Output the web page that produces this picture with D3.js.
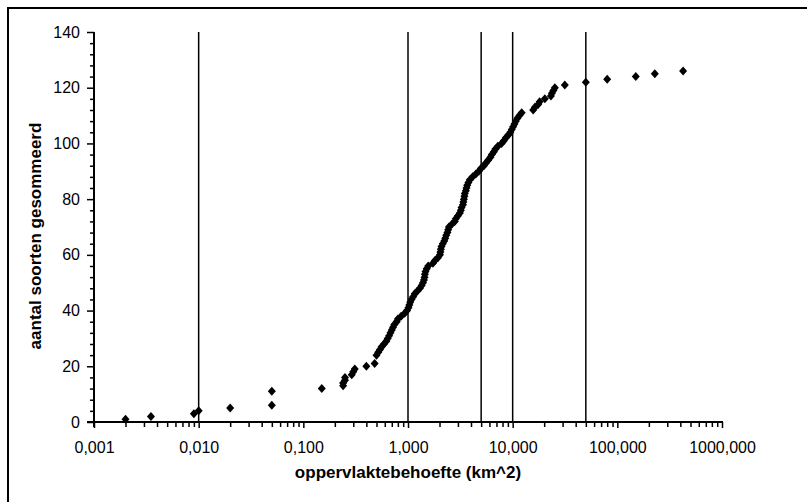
<!DOCTYPE html>
<html>
<head>
<meta charset="utf-8">
<script src="https://cdn.jsdelivr.net/npm/d3@7"></script>
<style>
  body { margin: 0; background: #fff; }
  svg { display: block; font-family: "Liberation Sans", Arial, sans-serif; }
</style>
</head>
<body>
<div id="chart"></div>
<script>
// area requirement (km^2) per species, and the summed number of species
const area = [
  0.002, 0.0035, 0.009, 0.01, 0.02, 0.05, 0.05, 0.15,
  0.24, 0.24, 0.25, 0.25, 0.29, 0.3, 0.31, 0.4, 0.48,
  0.5, 0.52, 0.54, 0.56, 0.59, 0.62, 0.64, 0.66, 0.68, 0.7,
  0.72, 0.74, 0.78, 0.8, 0.86, 0.93, 0.98, 1.01, 1.03, 1.05,
  1.08, 1.12, 1.16, 1.23, 1.3, 1.35, 1.39, 1.42, 1.44, 1.45,
  1.47, 1.51, 1.56, 1.73, 1.81, 1.93, 2.02, 2.04, 2.06, 2.09,
  2.15, 2.22, 2.27, 2.32, 2.38, 2.42, 2.46, 2.62, 2.8, 2.86,
  3.0, 3.13, 3.2, 3.25, 3.35, 3.38, 3.42, 3.46, 3.49, 3.57,
  3.62, 3.68, 3.78, 3.9, 4.15, 4.45, 4.75, 4.97, 5.31, 5.55,
  5.83, 6.13, 6.33, 6.61, 6.84, 7.22, 7.83, 8.24, 8.61, 9.1,
  9.5, 9.8, 10.1, 10.4, 10.7, 11.1, 11.6, 12.2, 15.7, 16.3,
  17.5, 18.1, 20.3, 23.2, 23.7, 24.5, 25.3, 31.5, 50, 80,
  150, 228, 425
];
const count = [
  1, 2, 3, 4, 5, 6, 11, 12,
  13, 14, 15, 16, 17, 18, 19, 20, 21,
  24, 25, 26, 27, 28, 29, 30, 31, 32, 33,
  34, 35, 36, 37, 38, 39, 40, 41, 42, 43,
  44, 45, 46, 47, 48, 49, 50, 51, 52, 53,
  54, 55, 56, 57, 58, 59, 60, 61, 62, 63,
  64, 65, 66, 67, 68, 69, 70, 71, 72, 73,
  74, 75, 76, 77, 78, 79, 80, 81, 82, 83,
  84, 85, 86, 87, 88, 89, 90, 91, 92, 93,
  94, 95, 96, 97, 98, 99, 100, 101, 102, 103,
  104, 105, 106, 107, 108, 109, 110, 111, 112, 113,
  114, 115, 116, 117, 118, 119, 120, 121, 122, 123,
  124, 125, 126
];
// vertical reference lines
const refLines = [0.01, 1, 5, 10, 50];
// ticks
const xTicks = [0.001, 0.01, 0.1, 1, 10, 100, 1000];
const yTicks = [0, 20, 40, 60, 80, 100, 120, 140];

const points = area.map((a, i) => ({ area: a, count: count[i] }));

const width = 807, height = 502;
const margin = { top: 32, right: 85, bottom: 80, left: 94 };
const plotW = width - margin.left - margin.right;
const plotH = height - margin.top - margin.bottom;

const svg = d3.select("#chart").append("svg")
  .attr("width", width)
  .attr("height", height);

// outer frame (only left and top edges fall inside the picture)
svg.append("rect")
  .attr("x", 8).attr("y", 8)
  .attr("width", 900).attr("height", 600)
  .attr("fill", "none")
  .attr("stroke", "#000")
  .attr("stroke-width", 2);

const g = svg.append("g")
  .attr("transform", `translate(${margin.left},${margin.top})`);

const x = d3.scaleLog().domain([0.001, 1000]).range([0, plotW]);
const y = d3.scaleLinear().domain([0, 140]).range([plotH, 0]);

const nl = d3.formatLocale({ decimal: ",", thousands: ".", grouping: [3], currency: ["€", ""] });
const fmt = nl.format(".3f");

// minor ticks
const xMinor = [];
for (let e = -3; e < 3; e++) {
  for (let k = 2; k <= 9; k++) xMinor.push(k * Math.pow(10, e));
}
const yMinor = d3.range(0, 141, 4).filter(v => v % 20 !== 0);

g.append("g")
  .attr("transform", `translate(0,${plotH})`)
  .call(d3.axisBottom(x).tickValues(xMinor).tickSize(5).tickFormat(""))
  .call(a => a.select(".domain").remove())
  .selectAll("line").attr("stroke-width", 1.5);

g.append("g")
  .call(d3.axisLeft(y).tickValues(yMinor).tickSize(4).tickFormat(""))
  .call(a => a.select(".domain").remove())
  .selectAll("line").attr("stroke-width", 1.5);

// reference lines
g.selectAll(".ref")
  .data(refLines)
  .enter().append("line")
  .attr("class", "ref")
  .attr("x1", d => x(d)).attr("x2", d => x(d))
  .attr("y1", y(140)).attr("y2", y(0))
  .attr("stroke", "#000")
  .attr("stroke-width", 1.5);

// x axis
const xAxis = g.append("g")
  .attr("transform", `translate(0,${plotH})`)
  .call(d3.axisBottom(x).tickValues(xTicks).tickSize(6).tickPadding(14).tickFormat(fmt));
xAxis.select(".domain").attr("stroke-width", 2).attr("d", `M-7,0H${plotW + 1}`);
xAxis.selectAll("line").attr("stroke-width", 1.5);
xAxis.selectAll("text").style("font-size", "16px").attr("fill", "#000");

// y axis
const yAxis = g.append("g")
  .call(d3.axisLeft(y).tickValues(yTicks).tickSize(7).tickPadding(7));
yAxis.select(".domain").attr("stroke-width", 2).attr("d", `M0,${plotH + 5}V0`);
yAxis.selectAll("line").attr("stroke-width", 1.5);
yAxis.selectAll("text").style("font-size", "16px").attr("fill", "#000");

// diamond markers
const diamond = "M0,-4.5L4,0L0,4.5L-4,0Z";
g.selectAll(".pt")
  .data(points)
  .enter().append("path")
  .attr("class", "pt")
  .attr("d", diamond)
  .attr("transform", d => `translate(${x(d.area)},${y(d.count)})`)
  .attr("fill", "#000");

// axis titles
svg.append("text")
  .attr("x", margin.left + x(1))
  .attr("y", 478)
  .attr("text-anchor", "middle")
  .style("font-size", "17px")
  .style("font-weight", "bold")
  .text("oppervlaktebehoefte (km^2)");

svg.append("text")
  .attr("transform", "translate(41,236) rotate(-90)")
  .attr("text-anchor", "middle")
  .style("font-size", "17px")
  .style("font-weight", "bold")
  .text("aantal soorten gesommeerd");
</script>
</body>
</html>
